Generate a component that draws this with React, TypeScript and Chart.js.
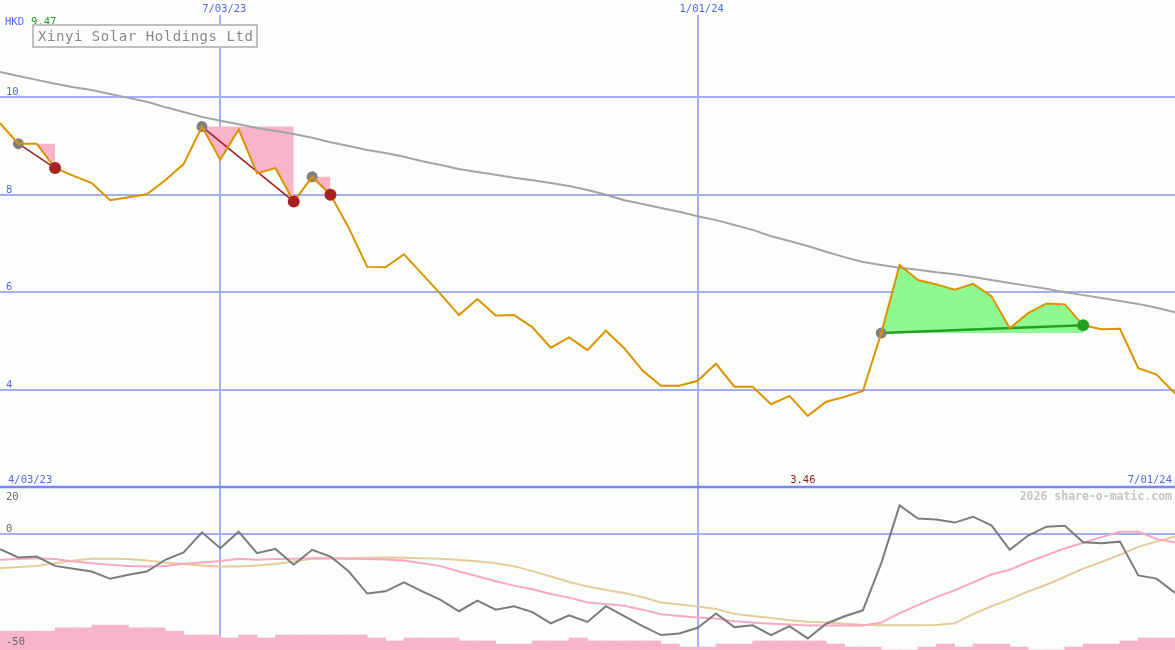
import React, { useEffect, useRef } from 'react';
import { Chart, registerables } from 'chart.js';

Chart.register(...registerables);

// ---------- text ----------
const companyName = 'Xinyi Solar Holdings Ltd';
const currency = 'HKD';
const startDateLabel = '4/03/23';
const endDateLabel = '7/01/24';
const watermark = '2026 share-o-matic.com';

// ---------- ticks ----------
const dateTickIndex = [12, 38];
const dateTickLabels = ['7/03/23', '1/01/24'];
const priceTicks = [10, 8, 6, 4];
const oscTicks = [20, 0, -50];
const oscGridLines = [0];

// ---------- weekly series (65 weeks) ----------
const priceValues = [
  9.47, 9.05, 9.05, 8.55, 8.39, 8.24, 7.89, 7.95, 8.01, 8.30,
  8.63, 9.40, 8.72, 9.34, 8.44, 8.55, 7.86, 8.37, 8.00, 7.32,
  6.52, 6.51, 6.78, 6.37, 5.96, 5.53, 5.86, 5.52, 5.53, 5.28,
  4.86, 5.07, 4.81, 5.21, 4.85, 4.39, 4.08, 4.08, 4.18, 4.53,
  4.06, 4.06, 3.70, 3.87, 3.46, 3.75, 3.85, 3.97, 5.16, 6.56,
  6.25, 6.16, 6.05, 6.17, 5.92, 5.26, 5.57, 5.77, 5.75, 5.32,
  5.24, 5.25, 4.44, 4.31, 3.92,
];

const priceAverage = [
  10.52, 10.44, 10.36, 10.28, 10.21, 10.15, 10.07, 9.99, 9.91, 9.80,
  9.70, 9.60, 9.52, 9.45, 9.37, 9.31, 9.25, 9.17, 9.08, 9.00,
  8.92, 8.86, 8.78, 8.69, 8.61, 8.53, 8.47, 8.41, 8.35, 8.30,
  8.24, 8.18, 8.10, 8.00, 7.89, 7.81, 7.73, 7.65, 7.56, 7.48,
  7.38, 7.28, 7.15, 7.05, 6.95, 6.83, 6.72, 6.62, 6.56, 6.50,
  6.46, 6.41, 6.37, 6.31, 6.25, 6.19, 6.13, 6.07, 6.00, 5.94,
  5.88, 5.82, 5.76, 5.68, 5.59,
];

const momentum = [
  -6.8, -10.5, -10.1, -14.2, -15.5, -16.7, -19.9, -18.1, -16.7, -11.5,
  -8.3, 0.6, -6.4, 0.9, -8.6, -6.7, -13.7, -7.1, -10.1, -16.7,
  -26.4, -25.4, -21.5, -25.4, -29.2, -34.2, -29.5, -33.5, -32.0, -34.6,
  -39.6, -36.0, -38.9, -32.0, -36.4, -40.8, -44.7, -44.0, -41.5, -35.2,
  -41.2, -40.4, -44.7, -40.8, -46.2, -39.7, -36.4, -33.8, -13.0, 12.5,
  6.7, 6.3, 4.9, 7.5, 3.7, -7.1, -0.8, 3.1, 3.5, -3.8,
  -4.2, -3.5, -18.4, -19.8, -26.1,
];

const momentumFast = [
  -11.5, -11.2, -10.8, -11.2, -12.3, -13.0, -13.7, -14.2, -14.5, -14.2,
  -13.3, -12.7, -12.0, -11.1, -11.5, -11.2, -11.0, -10.8, -10.8, -11.0,
  -11.2, -11.4, -11.8, -13.0, -14.3, -16.7, -18.8, -21.0, -22.9, -24.5,
  -26.6, -28.2, -30.3, -31.0, -31.8, -33.5, -35.5, -36.3, -37.0, -37.4,
  -38.6, -39.2, -39.7, -40.1, -40.5, -40.5, -40.5, -40.5, -39.2, -35.0,
  -31.5, -28.0, -25.0, -21.5, -18.0, -15.9, -12.5, -9.5, -6.5, -4.0,
  -1.5, 0.9, 0.9, -2.3, -3.9,
];

const momentumSlow = [
  -15.2, -14.7, -14.2, -13.0, -11.8, -11.1, -11.0, -11.2, -11.8, -12.7,
  -13.4, -14.0, -14.5, -14.5, -14.0, -13.4, -12.3, -11.1, -10.9, -10.8,
  -10.6, -10.5, -10.6, -10.8, -11.1, -11.6, -12.1, -13.0, -14.3, -16.5,
  -18.9, -21.3, -23.3, -24.8, -26.2, -28.0, -30.3, -31.2, -32.1, -33.2,
  -35.3, -36.3, -37.2, -38.2, -38.8, -39.2, -39.7, -40.2, -40.4, -40.4,
  -40.4, -40.3, -39.5, -35.5, -32.0, -29.0, -25.5, -22.5, -19.0, -15.4,
  -12.5, -9.3, -5.8, -3.5, -1.2,
];

// weekly volume (one bar per week interval)
const volumeValues = [
  6.3, 6.3, 6.3, 7.4, 7.4, 8.3, 8.3, 7.4, 7.4, 6.3,
  5, 5, 4, 5, 4, 5, 5, 5, 5, 5,
  4, 3, 4, 4, 4, 3, 3, 2, 2, 3,
  3, 4, 3, 3, 3, 3, 2, 1, 1, 2,
  2, 3, 3, 3, 3, 2, 1, 1, 0, 0,
  1, 2, 1, 2, 2, 1, 0, 0, 1, 2,
  2, 3, 4, 4,
];

// signals (week indexes)
const fallStart = [1, 11, 17];
const fallEnd = [3, 16, 18];
const riseStart = [48];
const riseEnd = [59];

// ---------- layout constants ----------
const W = 1175;
const H = 650;
const SPLIT_PX = 487;
const PRICE_TOP = 12;
const PRICE_SPLIT = 2;
const OSC_SPLIT = 20.6;
const OSC_BOTTOM = -51.3;
const VOL_MAX = H / 3;

const MONO = '"DejaVu Sans Mono", "Liberation Mono", monospace';
const BG = '#fcfefc';
const GRID = '#a3aff2';
const LABEL_BLUE = '#5566ee';

const pts = (arr: number[], start = 0) => arr.map((y, i) => ({ x: i + start, y }));

const decorPlugin = {
  id: 'decor',
  beforeDraw(chart: any) {
    const { ctx } = chart;
    ctx.save();
    ctx.fillStyle = BG;
    ctx.fillRect(0, 0, chart.width, chart.height);
    ctx.restore();
  },
  beforeDatasetsDraw(chart: any) {
    const { ctx, scales, chartArea } = chart;
    const xs = scales.x, yp = scales.yPrice, yo = scales.yOsc;
    ctx.save();
    ctx.strokeStyle = GRID;
    ctx.lineWidth = 2;
    const hline = (y: number) => {
      ctx.beginPath();
      ctx.moveTo(chartArea.left, y);
      ctx.lineTo(chartArea.right, y);
      ctx.stroke();
    };
    priceTicks.forEach((t) => hline(Math.round(yp.getPixelForValue(t))));
    oscGridLines.forEach((t) => hline(Math.round(yo.getPixelForValue(t))));
    dateTickIndex.forEach((i) => {
      const x = Math.round(xs.getPixelForValue(i));
      ctx.beginPath();
      ctx.moveTo(x, chartArea.top + 15);
      ctx.lineTo(x, chartArea.bottom);
      ctx.stroke();
    });
    // panel separator
    const sy = Math.round(yp.getPixelForValue(PRICE_SPLIT));
    ctx.strokeStyle = '#7888ee';
    ctx.lineWidth = 2.5;
    ctx.beginPath();
    ctx.moveTo(chartArea.left, sy);
    ctx.lineTo(chartArea.right, sy);
    ctx.stroke();
    ctx.restore();
  },
  afterDraw(chart: any) {
    const { ctx, scales, chartArea } = chart;
    const xs = scales.x, yp = scales.yPrice, yo = scales.yOsc;
    const sy = Math.round(yp.getPixelForValue(PRICE_SPLIT));
    ctx.save();
    ctx.textBaseline = 'alphabetic';
    ctx.font = `10.5px ${MONO}`;

    // price tick labels
    ctx.fillStyle = LABEL_BLUE;
    ctx.textAlign = 'left';
    priceTicks.forEach((t) => {
      ctx.fillText(String(t), 6, Math.round(yp.getPixelForValue(t)) - 2);
    });

    // oscillator tick labels
    ctx.fillStyle = '#666666';
    oscTicks.forEach((t) => {
      let y = Math.round(yo.getPixelForValue(t)) - 2;
      if (y < sy + 12) y = sy + 13;
      ctx.fillText(String(t), 6, y);
    });

    // date labels top
    ctx.fillStyle = LABEL_BLUE;
    ctx.textAlign = 'center';
    dateTickIndex.forEach((i, k) => {
      ctx.fillText(dateTickLabels[k], xs.getPixelForValue(i) + 4, 12);
    });

    // start / end dates above separator
    ctx.textAlign = 'left';
    ctx.fillText(startDateLabel, 8, sy - 4);
    ctx.textAlign = 'right';
    ctx.fillText(endDateLabel, chartArea.right - 3, sy - 4);

    // min price label
    let minI = 0;
    priceValues.forEach((v, i) => { if (v < priceValues[minI]) minI = i; });
    ctx.fillStyle = '#a01818';
    ctx.textAlign = 'center';
    ctx.fillText(priceValues[minI].toFixed(2), xs.getPixelForValue(minI) - 5, sy - 4);

    // currency and first price
    ctx.textAlign = 'left';
    ctx.fillStyle = LABEL_BLUE;
    ctx.fillText(currency, 5, 25);
    ctx.fillStyle = '#1a9a1a';
    ctx.fillText(priceValues[0].toFixed(2), 31, 25);

    // watermark
    ctx.font = `bold 11.5px ${MONO}`;
    ctx.fillStyle = '#c4c4c4';
    ctx.textAlign = 'right';
    ctx.fillText(watermark, chartArea.right - 3, sy + 13);

    // title box
    ctx.fillStyle = BG;
    ctx.fillRect(32, 24, 226, 24);
    ctx.strokeStyle = '#c0c0c0';
    ctx.lineWidth = 2;
    ctx.strokeRect(33, 25, 224, 22);
    ctx.fillStyle = '#888888';
    ctx.textAlign = 'left';
    ctx.font = `14px ${MONO}`;
    (ctx as any).letterSpacing = '0.55px';
    ctx.fillText(companyName, 38, 41);
    (ctx as any).letterSpacing = '0px';
    ctx.restore();
  },
};

function buildDatasets(): any[] {
  const ds: any[] = [];
  // volume bars
  ds.push({
    type: 'bar',
    data: volumeValues.map((v, i) => ({ x: i + 0.5, y: v })),
    backgroundColor: '#f8b4c8',
    borderWidth: 0,
    barPercentage: 1,
    categoryPercentage: 1,
    yAxisID: 'yVol',
    order: 9,
  });
  // long-term average
  ds.push({
    type: 'line',
    data: pts(priceAverage),
    borderColor: '#a4a4a4',
    borderWidth: 2,
    pointRadius: 0,
    yAxisID: 'yPrice',
    order: 7,
  });
  // oscillator lines
  ds.push({ type: 'line', data: pts(momentumSlow), borderColor: '#e4cc9c', borderWidth: 2, pointRadius: 0, yAxisID: 'yOsc', order: 6 });
  ds.push({ type: 'line', data: pts(momentumFast), borderColor: '#f8a8c0', borderWidth: 2, pointRadius: 0, yAxisID: 'yOsc', order: 5 });
  ds.push({ type: 'line', data: pts(momentum), borderColor: '#7c7c7c', borderWidth: 2, pointRadius: 0, yAxisID: 'yOsc', order: 4 });

  const addSignal = (s: number, e: number, fillColor: string, lineColor: string, lineWidth: number, endColor: string) => {
    ds.push({
      type: 'line',
      data: pts(priceValues.slice(s, e + 1), s),
      borderWidth: 0,
      borderColor: 'rgba(0,0,0,0)',
      backgroundColor: fillColor,
      fill: { value: priceValues[s] },
      pointRadius: 0,
      yAxisID: 'yPrice',
      order: 8,
    });
    ds.push({
      type: 'line',
      data: [{ x: s, y: priceValues[s] }, { x: e, y: priceValues[e] }],
      borderColor: lineColor,
      borderWidth: lineWidth,
      pointRadius: 0,
      yAxisID: 'yPrice',
      order: 3,
    });
    ds.push({
      type: 'line',
      data: [{ x: s, y: priceValues[s] }],
      showLine: false,
      pointRadius: 5.5,
      pointBackgroundColor: '#808080',
      pointBorderWidth: 0,
      yAxisID: 'yPrice',
      order: 2,
    });
    ds.push({
      type: 'line',
      data: [{ x: e, y: priceValues[e] }],
      showLine: false,
      pointRadius: 6,
      pointBackgroundColor: endColor,
      pointBorderWidth: 0,
      yAxisID: 'yPrice',
      order: 0,
    });
  };
  fallStart.forEach((s, k) => addSignal(s, fallEnd[k], '#f8b4c8', '#a01c1c', 1.5, '#a82020'));
  riseStart.forEach((s, k) => addSignal(s, riseEnd[k], '#90f890', '#22a022', 2.5, '#22a022'));

  // price line
  ds.push({
    type: 'line',
    data: pts(priceValues),
    borderColor: '#db9300',
    borderWidth: 2,
    pointRadius: 0,
    yAxisID: 'yPrice',
    order: 1,
  });
  return ds;
}

export default function App() {
  const canvasRef = useRef<HTMLCanvasElement | null>(null);

  useEffect(() => {
    if (!canvasRef.current) return;
    const priceMin = PRICE_TOP - ((PRICE_TOP - PRICE_SPLIT) * H) / SPLIT_PX;
    const oscMax = OSC_SPLIT + ((OSC_SPLIT - OSC_BOTTOM) * SPLIT_PX) / (H - SPLIT_PX);
    const chart = new Chart(canvasRef.current, {
      type: 'line',
      data: { datasets: buildDatasets() },
      options: {
        responsive: false,
        maintainAspectRatio: false,
        animation: false,
        events: [],
        layout: { padding: 0, autoPadding: false },
        plugins: {
          legend: { display: false },
          tooltip: { enabled: false },
          title: { display: false },
        },
        elements: { line: { tension: 0 }, point: { radius: 0 } },
        scales: {
          x: { type: 'linear', min: 0, max: priceValues.length - 1, offset: false, display: false },
          yPrice: { type: 'linear', min: priceMin, max: PRICE_TOP, display: false },
          yOsc: { type: 'linear', min: OSC_BOTTOM, max: oscMax, display: false },
          yVol: { type: 'linear', min: 0, max: VOL_MAX, display: false },
        },
      } as any,
      plugins: [decorPlugin as any],
    });
    return () => chart.destroy();
  }, []);

  return (
    <div style={{ position: 'fixed', left: 0, top: 0, width: W, height: H, background: BG }}>
      <canvas ref={canvasRef} width={W} height={H} style={{ display: 'block' }} />
    </div>
  );
}
